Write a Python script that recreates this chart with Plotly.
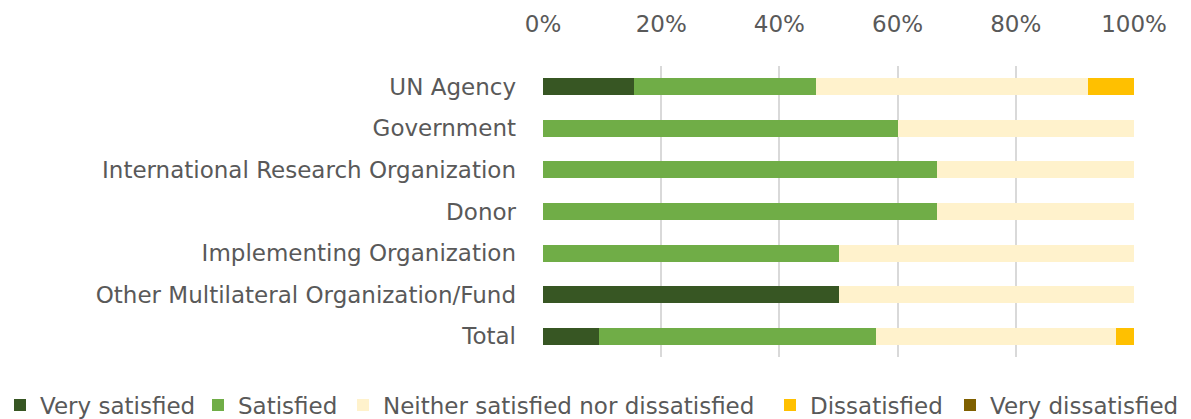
import plotly.graph_objects as go

# Respondent groups, top to bottom
categories = [
    "UN Agency",
    "Government",
    "International Research Organization",
    "Donor",
    "Implementing Organization",
    "Other Multilateral Organization/Fund",
    "Total",
]

# Share of responses per satisfaction level (%)
very_satisfied = [15.4, 0.0, 0.0, 0.0, 0.0, 50.0, 9.4]
satisfied = [30.8, 60.0, 66.7, 66.7, 50.0, 0.0, 46.9]
neither = [46.1, 40.0, 33.3, 33.3, 50.0, 50.0, 40.6]
dissatisfied = [7.7, 0.0, 0.0, 0.0, 0.0, 0.0, 3.1]
very_dissatisfied = [0.0, 0.0, 0.0, 0.0, 0.0, 0.0, 0.0]

series_names = [
    "Very satisfied",
    "Satisfied",
    "Neither satisfied nor dissatisfied",
    "Dissatisfied",
    "Very dissatisfied",
]
series_values = [very_satisfied, satisfied, neither, dissatisfied, very_dissatisfied]
series_colors = ["#375623", "#70AD47", "#FFF2CC", "#FFC000", "#7F6000"]

tick_vals = [0, 20, 40, 60, 80, 100]
tick_text = ["0%", "20%", "40%", "60%", "80%", "100%"]

FONT = "DejaVu Sans"
TEXT = "#595959"
W, H = 1191, 419

# one single-entry legend per series so the key can spread across the full width
legend_left_px = [0, 198, 343, 770, 950]
legend_ids = ["legend", "legend2", "legend3", "legend4", "legend5"]

fig = go.Figure()
for name, vals, color, lid in zip(series_names, series_values, series_colors, legend_ids):
    fig.add_trace(go.Bar(
        y=categories,
        x=vals,
        name=name,
        orientation="h",
        legend=lid,
        showlegend=True,
        marker=dict(color=color, line=dict(width=0)),
    ))

legend_layout = {}
for lid, px in zip(legend_ids, legend_left_px):
    legend_layout[lid] = dict(
        orientation="h",
        xref="container",
        x=px / W,
        xanchor="left",
        yref="container",
        y=1 - 405 / H,
        yanchor="middle",
        bgcolor="rgba(0,0,0,0)",
        font=dict(family=FONT, size=23, color=TEXT),
        itemclick=False,
        itemdoubleclick=False,
    )

fig.update_layout(
    showlegend=True,
    barmode="stack",
    bargap=0.59,
    width=W,
    height=H,
    margin=dict(l=543, r=57, t=66, b=62, autoexpand=False),
    paper_bgcolor="white",
    plot_bgcolor="white",
    font=dict(family=FONT, size=23, color=TEXT),
    xaxis=dict(
        side="top",
        range=[0, 100],
        tickvals=tick_vals,
        ticktext=tick_text,
        showgrid=True,
        gridcolor="#D9D9D9",
        gridwidth=1.5,
        zeroline=False,
        showline=False,
        ticks="",
        ticklabelstandoff=28,
        fixedrange=True,
    ),
    yaxis=dict(
        categoryorder="array",
        categoryarray=categories,
        tickmode="array",
        tickvals=categories,
        autorange="reversed",
        showgrid=False,
        showline=False,
        ticks="",
        ticklabelstandoff=26,
        fixedrange=True,
    ),
    **legend_layout,
)

fig.write_html("out.html")
